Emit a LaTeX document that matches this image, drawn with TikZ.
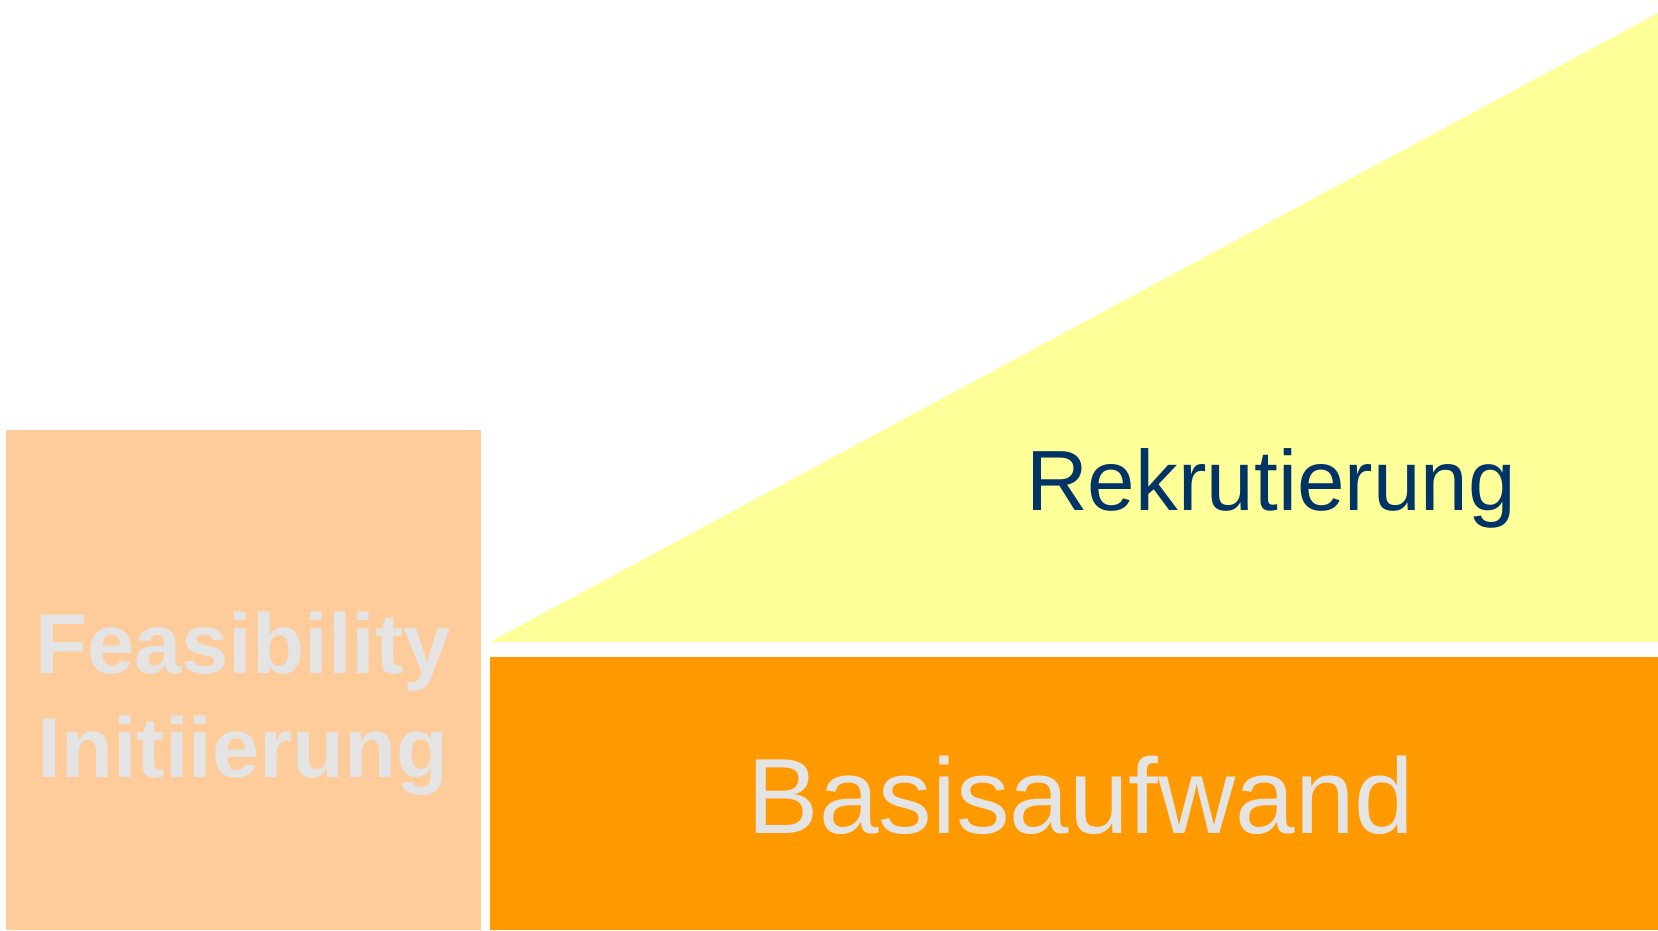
\documentclass[tikz,border=0pt]{standalone}
\usepackage{fontspec}
\setmainfont{Liberation Sans}
\definecolor{peach}{HTML}{FECB9A}
\definecolor{paleyellow}{HTML}{FFFF99}
\definecolor{deeporange}{HTML}{FF9900}
\definecolor{lightgrey}{HTML}{E4E4E4}
\definecolor{navy}{HTML}{003366}
\tikzset{
  label84/.style={anchor=base, inner sep=0pt, font=\fontsize{85.5}{100}\selectfont},
  label105/.style={anchor=base, inner sep=0pt, font=\fontsize{107}{120}\selectfont}
}
\begin{document}
\begin{tikzpicture}[x=1pt,y=1pt, line join=round]
            \def\gap{490} \def\xr{1658} \def\yb{273} \def\yt{288}
            \useasboundingbox (0,0) rectangle (1658,930);
            \fill[white] (0,0) rectangle (1658,930);
            \fill[peach] (6,0) rectangle (481,500);
            \fill[deeporange] (\gap,0) rectangle (\xr,\yb);
            \fill[paleyellow] (\gap,\yt)--(\xr,\yt)--(\xr,917)--cycle;
            \node[label84, text=navy] (rekr) at (1271,419.3) {Rekrutierung};
            \node[label105, text=lightgrey] (basis) at (1081,97) {Basisaufwand};
            \node[label84, text=lightgrey, font=\fontsize{85}{100}\selectfont\bfseries] (feas) at (243,256.4) {Feasibility};
            \node[label84, text=lightgrey, font=\fontsize{85}{100}\selectfont\bfseries] (init) at (243,153) {Initiierung};
        \end{tikzpicture}
\end{document}
